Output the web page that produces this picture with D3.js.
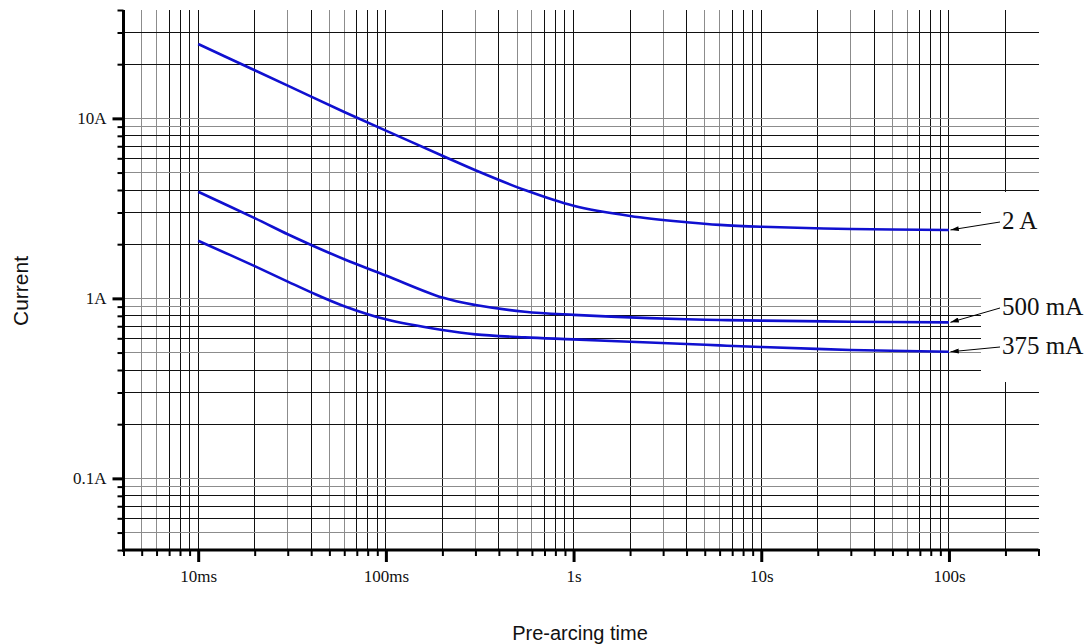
<!DOCTYPE html>
<html>
<head>
<meta charset="utf-8">
<script src="https://cdn.jsdelivr.net/npm/d3@7"></script>
<style>
  html, body { margin: 0; padding: 0; background: #fff; }
  svg { display: block; }
</style>
</head>
<body>
<svg id="chart" width="1091" height="644"></svg>
<script>
// ---- data ----
const times = [0.01, 0.02, 0.03, 0.04, 0.06, 0.1, 0.2, 0.3, 0.55, 1, 2, 4, 6, 10, 30, 100];
const current2A    = [25.9, 18.5, 15.2, 13.2, 10.85, 8.55, 6.2, 5.15, 4.0, 3.27, 2.87, 2.65, 2.56, 2.5, 2.43, 2.40];
const current500mA = [3.91, 2.79, 2.27, 1.98, 1.65, 1.34, 1.01, 0.918, 0.843, 0.81, 0.784, 0.766, 0.758, 0.752, 0.742, 0.736];
const current375mA = [2.09, 1.51, 1.24, 1.08, 0.905, 0.765, 0.667, 0.631, 0.607, 0.592, 0.574, 0.558, 0.548, 0.537, 0.517, 0.505];
const seriesLabels = ["2 A", "500 mA", "375 mA"];
const xTickValues = [0.01, 0.1, 1, 10, 100];
const xTickLabels = ["10ms", "100ms", "1s", "10s", "100s"];
const yTickValues = [0.1, 1, 10];
const yTickLabels = ["0.1A", "1A", "10A"];
const xDomain = [0.004, 300];
const yDomain = [0.04, 40];
const xTitle = "Pre-arcing time";
const yTitle = "Current";

(function () {
// ---- layout ----
const svg = d3.select("#chart");
const x = d3.scaleLog().domain(xDomain).range([123.5, 1038.5]);
const y = d3.scaleLog().domain(yDomain).range([550, 10]);
const pLeft = x.range()[0], pRight = x.range()[1];
const pTop = y.range()[1], pBottom = y.range()[0];

function mult(v) {
  const p = Math.pow(10, Math.floor(Math.log10(v) + 1e-9));
  return Math.round(v / p);
}
const isMajor = (list, d) => list.some(v => Math.abs(v - d) / v < 1e-6);

const xt = x.ticks();
const yt = y.ticks();

// ---- grid ----
const grid = svg.append("g").attr("shape-rendering", "crispEdges");
grid.selectAll("line.v")
  .data(xt.filter(v => v > xDomain[0] * 1.001 && v < xDomain[1] * 0.999))
  .join("line")
  .attr("class", "v")
  .attr("x1", d => x(d)).attr("x2", d => x(d))
  .attr("y1", pTop).attr("y2", pBottom)
  .attr("stroke", d => [3, 5, 6].includes(mult(d)) ? "#8c8c8c" : "#111")
  .attr("stroke-width", 1);
grid.selectAll("line.h")
  .data(yt.filter(v => v > yDomain[0] * 1.001 && v < yDomain[1] * 0.999))
  .join("line")
  .attr("class", "h")
  .attr("x1", pLeft).attr("x2", pRight)
  .attr("y1", d => y(d)).attr("y2", d => y(d))
  .attr("stroke", d => [1, 5, 9].includes(mult(d)) ? "#8c8c8c" : "#111")
  .attr("stroke-width", 1);

// white box behind the series labels
svg.append("rect")
  .attr("x", 981).attr("y", 192)
  .attr("width", 1091 - 981).attr("height", 190)
  .attr("fill", "#fff");

// ---- axes ----
const xAxis = d3.axisBottom(x)
  .tickValues(xt)
  .tickSizeOuter(0)
  .tickFormat(d => {
    const i = xTickValues.findIndex(v => Math.abs(v - d) / v < 1e-6);
    return i >= 0 ? xTickLabels[i] : "";
  });
const gx = svg.append("g").attr("transform", `translate(0,${pBottom})`).call(xAxis);
gx.select(".domain").attr("stroke", "#000").attr("stroke-width", 3)
  .attr("d", `M${pLeft - 1.5},0H${pRight}`);
gx.selectAll(".tick line")
  .attr("stroke", "#000")
  .attr("y1", -1)
  .attr("y2", d => isMajor(xTickValues, d) ? 12 : 6)
  .attr("stroke-width", d => isMajor(xTickValues, d) ? 3 : 2);
gx.selectAll(".tick text")
  .attr("y", 32).attr("dy", 0)
  .attr("font-family", "'Liberation Serif', 'Times New Roman', serif")
  .attr("font-size", 17)
  .attr("fill", "#111");

const yAxis = d3.axisLeft(y)
  .tickValues(yt)
  .tickSizeOuter(0)
  .tickFormat(d => {
    const i = yTickValues.findIndex(v => Math.abs(v - d) / v < 1e-6);
    return i >= 0 ? yTickLabels[i] : "";
  });
const gy = svg.append("g").attr("transform", `translate(${pLeft},0)`).call(yAxis);
gy.select(".domain").attr("stroke", "#000").attr("stroke-width", 3)
  .attr("d", `M0,${pTop}V${pBottom + 1.5}`);
gy.selectAll(".tick line")
  .attr("stroke", "#000")
  .attr("x1", 0)
  .attr("x2", d => isMajor(yTickValues, d) ? -11 : -6)
  .attr("stroke-width", d => isMajor(yTickValues, d) ? 3 : 2);
gy.selectAll(".tick text")
  .attr("x", -17).attr("dy", "0.32em")
  .attr("text-anchor", "end")
  .attr("font-family", "'Liberation Serif', 'Times New Roman', serif")
  .attr("font-size", 17)
  .attr("fill", "#111");

// ---- series ----
const series = [current2A, current500mA, current375mA];
const line = d3.line()
  .x((d, i) => x(times[i]))
  .y(d => y(d))
  .curve(d3.curveCatmullRom.alpha(0.5));
svg.append("g").selectAll("path")
  .data(series)
  .join("path")
  .attr("d", d => line(d))
  .attr("fill", "none")
  .attr("stroke", "#1010d0")
  .attr("stroke-width", 2.6)
  .attr("stroke-linejoin", "round");

// ---- labels with arrows ----
svg.append("defs").append("marker")
  .attr("id", "arr")
  .attr("viewBox", "0 0 10 6")
  .attr("refX", 10).attr("refY", 3)
  .attr("markerWidth", 11).attr("markerHeight", 5)
  .attr("markerUnits", "userSpaceOnUse")
  .attr("orient", "auto")
  .append("path").attr("d", "M0,0L10,3L0,6Z").attr("fill", "#000");

const labelBaselines = [229, 315, 354];
const labelX = 1002;
const lastT = times[times.length - 1];
const lg = svg.append("g");
series.forEach((s, i) => {
  const ex = x(lastT) + 1.5, ey = y(s[s.length - 1]);
  lg.append("line")
    .attr("x1", labelX - 2).attr("y1", labelBaselines[i] - 7)
    .attr("x2", ex).attr("y2", ey)
    .attr("stroke", "#000").attr("stroke-width", 1)
    .attr("marker-end", "url(#arr)");
  lg.append("text")
    .attr("x", labelX).attr("y", labelBaselines[i])
    .attr("font-family", "'Liberation Serif', 'Times New Roman', serif")
    .attr("font-size", 25)
    .attr("fill", "#111")
    .text(seriesLabels[i]);
});

// ---- titles ----
svg.append("text")
  .attr("x", 580).attr("y", 640)
  .attr("text-anchor", "middle")
  .attr("font-family", "'Liberation Sans', Arial, sans-serif")
  .attr("font-size", 20)
  .attr("fill", "#111")
  .text(xTitle);
svg.append("text")
  .attr("transform", "translate(28,291) rotate(-90)")
  .attr("text-anchor", "middle")
  .attr("font-family", "'Liberation Sans', Arial, sans-serif")
  .attr("font-size", 21)
  .attr("fill", "#111")
  .text(yTitle);
})();
</script>
</body>
</html>
